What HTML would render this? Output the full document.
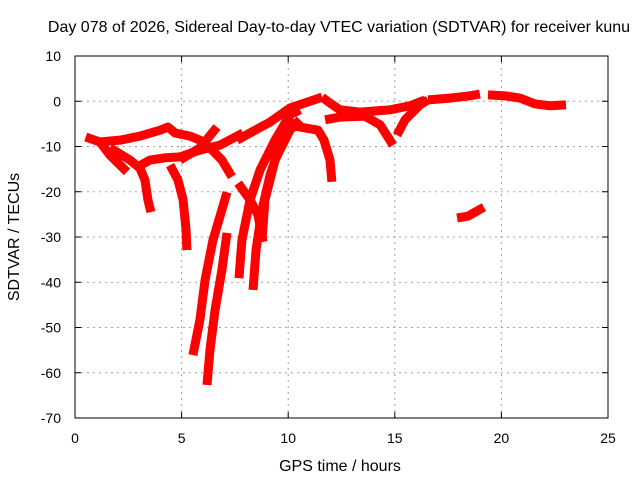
<!DOCTYPE html>
<html><head><meta charset="utf-8"><style>
body{margin:0;background:#fff;font-family:"Liberation Sans",sans-serif}
svg text{font-family:"Liberation Sans",sans-serif;font-size:14px;fill:#000}
svg text.big{font-size:16px}
</style></head><body>
<svg id="c" width="640" height="480" xmlns="http://www.w3.org/2000/svg">
<text class="big" x="339" y="32" text-anchor="middle">Day 078 of 2026, Sidereal Day-to-day VTEC variation (SDTVAR) for receiver kunu</text>
<text class="big" x="340" y="471" text-anchor="middle">GPS time / hours</text>
<text class="big" transform="translate(19,237) rotate(-90)" text-anchor="middle">SDTVAR / TECUs</text>
<g id="grid"></g>
<g id="ticks"></g>
<g id="series"></g>
<rect x="75" y="56" width="533" height="362" fill="none" stroke="#000" stroke-width="1"/>
</svg>
<script>
const xTicks=[0,5,10,15,20,25];
const yTicks=[10,0,-10,-20,-30,-40,-50,-60,-70];
const trackA=[[0.5,-7.9],[1.17,-9.0],[2.11,-8.6],[3.05,-7.7],[3.99,-6.4],[4.36,-5.7],[4.69,-7.0],[5.39,-7.7],[5.86,-8.6],[6.33,-10.3],[6.89,-13.0],[7.36,-16.7]];
const trackB=[[1.17,-9.0],[1.64,-11.9],[2.11,-14.1],[2.44,-15.6]];
const trackC=[[1.64,-10.3],[2.58,-13.0],[3.05,-14.8],[3.28,-17.4],[3.42,-21.8],[3.56,-24.5]];
const trackD=[[2.81,-14.8],[3.52,-13.0],[4.22,-12.5],[4.92,-12.3],[5.86,-10.8],[6.8,-9.7],[7.88,-7.0]];
const trackD2=[[4.92,-13.0],[5.86,-10.3],[6.66,-5.7]];
const trackE=[[4.46,-14.1],[4.83,-17.4],[5.07,-21.8],[5.21,-28.5],[5.25,-32.9]];
const trackF=[[7.13,-20.1],[6.89,-24.0],[6.47,-30.7],[6.1,-39.5],[5.86,-48.3],[5.53,-56.1]];
const trackG=[[7.13,-29.1],[6.89,-37.3],[6.57,-46.1],[6.33,-55.0],[6.19,-62.7]];
const trackH1=[[7.69,-39.1],[7.83,-30.7],[8.21,-21.8],[8.68,-15.2],[9.38,-8.6],[10.08,-3.0],[10.55,-1.9]];
const trackH2=[[8.35,-41.7],[8.49,-32.9],[8.77,-24.0],[9.15,-16.3],[9.62,-9.7],[10.32,-4.1]];
const trackH3=[[8.77,-30.7],[8.91,-21.8],[9.38,-13.0],[10.08,-6.4],[10.55,-4.1]];
const trackH4=[[7.6,-8.6],[8.21,-7.0],[9.15,-4.6],[10.08,-1.5],[11.59,0.9]];
const trackI=[[7.65,-18.1],[8.21,-21.8],[8.58,-25.1],[8.82,-31.1]];
const trackJ=[[9.99,-5.2],[10.79,-5.9],[11.4,-6.4],[11.68,-8.6],[11.96,-13.0],[12.05,-17.8]];
const trackK=[[11.59,0.9],[11.96,-0.4],[12.43,-1.9],[13.37,-2.4],[14.77,-1.9],[15.71,-1.0],[16.42,0.3]];
const trackL=[[11.73,-4.1],[12.43,-3.5],[13.6,-3.3],[14.31,-5.2],[14.92,-9.7]];
const trackM=[[15.1,-7.5],[15.48,-4.1],[16.18,-0.8],[16.56,0.3]];
const trackN=[[16.56,0.3],[17.59,0.7],[18.53,1.2],[18.99,1.6]];
const trackO=[[19.37,1.4],[20.17,1.2],[20.87,0.7],[21.58,-0.6],[22.28,-1.0],[23.03,-0.8]];
const trackP=[[17.92,-25.8],[18.43,-25.4],[19.18,-23.4]];
const tracks=[trackA,trackB,trackC,trackD,trackD2,trackE,trackF,trackG,trackH1,trackH2,trackH3,trackH4,trackI,trackJ,trackK,trackL,trackM,trackN,trackO,trackP];
const NS="http://www.w3.org/2000/svg";
const X=h=>75+h*(533/25);
const Y=v=>56+(10-v)*(362/80);
function mk(t,a,p){const e=document.createElementNS(NS,t);for(const k in a)e.setAttribute(k,a[k]);p.appendChild(e);return e;}
const grid=document.getElementById('grid'),ticks=document.getElementById('ticks'),ser=document.getElementById('series');
xTicks.forEach(t=>{
 if(t>0&&t<25){const l=mk('line',{x1:X(t),x2:X(t),y1:56,y2:418,stroke:'#a0a0a0','stroke-dasharray':'2,4'},grid);
 
 }
 mk('line',{x1:X(t),x2:X(t),y1:418,y2:412,stroke:'#000'},ticks);
 mk('line',{x1:X(t),x2:X(t),y1:56,y2:62,stroke:'#000'},ticks);
 const tx=mk('text',{x:X(t),y:443,'text-anchor':'middle'},ticks);tx.textContent=t;
 
 
});
yTicks.forEach(t=>{
 if(t<10&&t>-70){const l=mk('line',{x1:75,x2:608,y1:Y(t),y2:Y(t),stroke:'#a0a0a0','stroke-dasharray':'2,4'},grid);
 
 }
 mk('line',{x1:75,x2:81,y1:Y(t),y2:Y(t),stroke:'#000'},ticks);
 mk('line',{x1:602,x2:608,y1:Y(t),y2:Y(t),stroke:'#000'},ticks);
 const tx=mk('text',{x:61,y:Y(t)+5,'text-anchor':'end'},ticks);tx.textContent=t;
 
 
});
tracks.forEach(tr=>{
 const p=mk('polyline',{points:tr.map(d=>X(d[0])+','+Y(d[1])).join(' '),fill:'none',stroke:'#ff0000','stroke-width':9,'stroke-linejoin':'round'},ser);
 
 
});
</script>
</body></html>
